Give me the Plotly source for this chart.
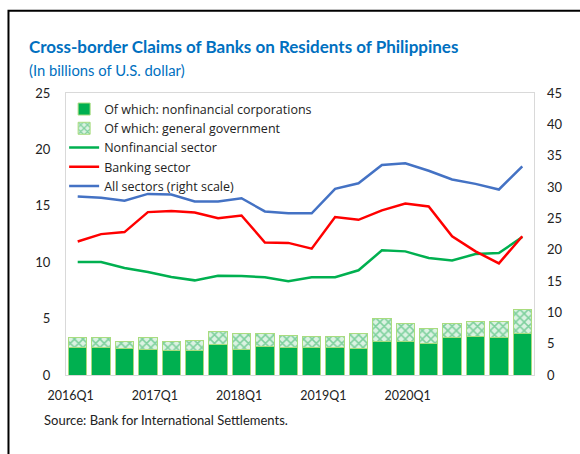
import plotly.graph_objects as go

quarters = ["2016Q1","2016Q2","2016Q3","2016Q4","2017Q1","2017Q2","2017Q3","2017Q4",
            "2018Q1","2018Q2","2018Q3","2018Q4","2019Q1","2019Q2","2019Q3","2019Q4",
            "2020Q1","2020Q2","2020Q3","2020Q4"]
nonfin_corp = [2.45,2.45,2.33,2.24,2.15,2.15,2.68,2.27,2.54,2.43,2.42,2.45,2.36,3.00,2.95,2.83,3.34,3.39,3.36,3.65]
total_bar   = [3.34,3.34,2.95,3.34,2.95,3.07,3.89,3.69,3.69,3.48,3.39,3.45,3.69,5.02,4.58,4.10,4.58,4.78,4.78,5.84]
gen_gov = [round(t - n, 2) for t, n in zip(total_bar, nonfin_corp)]
nonfin_sector = [10.02,10.02,9.49,9.13,8.69,8.39,8.80,8.77,8.66,8.32,8.66,8.66,9.28,11.05,10.96,10.37,10.16,10.72,10.81,12.23]
banking = [11.84,12.49,12.67,14.44,14.53,14.41,13.90,14.14,11.75,11.71,11.20,14.00,13.76,14.60,15.20,14.94,12.30,10.96,9.90,12.30]
all_sectors = [28.5,28.3,27.8,28.9,28.8,27.7,27.7,28.2,26.1,25.8,25.8,29.7,30.6,33.5,33.8,32.6,31.2,30.5,29.6,33.3]
label_quarters = ["2016Q1","2017Q1","2018Q1","2019Q1","2020Q1"]

x = list(range(len(quarters)))
FONT = "Open Sans"
TFONT = "Lato"
# label positions on the category axis (source layout places them slightly left of the bars)
label_pos = [quarters.index(q) * 0.9 - 0.3 for q in label_quarters]

fig = go.Figure()
fig.add_trace(go.Bar(x=x, y=nonfin_corp, name="Of which: nonfinancial corporations",
                     marker=dict(color="#00B050", line=dict(color="#A9DC7E", width=1)),
                     customdata=quarters, hovertemplate="%{customdata}: %{y}<extra></extra>"))
fig.add_trace(go.Bar(x=x, y=gen_gov, name="Of which: general government",
                     marker=dict(color="#DDF3E4", line=dict(color="#A9DC7E", width=1),
                                 pattern=dict(shape="x", fgcolor="#1FAE57", bgcolor="#DCF2E3",
                                              size=6, solidity=0.45)),
                     customdata=quarters, hovertemplate="%{customdata}: %{y}<extra></extra>"))
fig.add_trace(go.Scatter(x=x, y=nonfin_sector, name="Nonfinancial sector", mode="lines",
                         line=dict(color="#00B050", width=2.5)))
fig.add_trace(go.Scatter(x=x, y=banking, name="Banking sector", mode="lines",
                         line=dict(color="#FF0000", width=2.5)))
fig.add_trace(go.Scatter(x=x, y=all_sectors, name="All sectors (right scale)", mode="lines",
                         line=dict(color="#4472C4", width=2.5), yaxis="y2"))

fig.update_layout(
    width=580, height=454,
    margin=dict(l=66, r=46, t=93, b=78.5),
    paper_bgcolor="white", plot_bgcolor="white",
    barmode="stack", bargap=0.21,
    showlegend=True,
    legend=dict(x=-0.004, y=0.995, xanchor="left", yanchor="top", traceorder="normal",
                bgcolor="rgba(0,0,0,0)", font=dict(family=FONT, size=12.5, color="#222"),
                tracegroupgap=0, itemwidth=30),
    font=dict(family=TFONT, size=13, color="#222"),
    xaxis=dict(range=[-0.5, len(quarters) - 0.5], tickmode="array", tickvals=label_pos,
               ticktext=label_quarters, showgrid=False, zeroline=False,
               showline=True, linecolor="#D9D9D9", linewidth=1, mirror=True,
               ticks="", ticklabelstandoff=9, tickfont=dict(family=TFONT, size=12.5, color="#222")),
    yaxis=dict(range=[0, 25], dtick=5, showgrid=False, zeroline=False,
               showline=True, linecolor="#D9D9D9", linewidth=1, mirror=True,
               ticks="", ticklabelstandoff=12, tickfont=dict(family=TFONT, size=13, color="#222")),
    yaxis2=dict(range=[0, 45], dtick=5, overlaying="y", side="right", showgrid=False,
                zeroline=False, showline=False, ticks="", ticklabelstandoff=12,
                tickfont=dict(family=TFONT, size=13, color="#222")),
    annotations=[
        dict(text="<b>Cross-border Claims of Banks on Residents of Philippines</b>",
             xref="paper", yref="paper", x=-0.0833, y=1.164, xanchor="left", yanchor="middle",
             showarrow=False, font=dict(family=TFONT, size=17, color="#0070C0")),
        dict(text="(In billions of U.S. dollar)",
             xref="paper", yref="paper", x=-0.0833, y=1.081, xanchor="left", yanchor="middle",
             showarrow=False, font=dict(family=TFONT, size=14.8, color="#0070C0")),
        dict(text="Source: Bank for International Settlements.",
             xref="paper", yref="paper", x=-0.0513, y=-0.158, xanchor="left", yanchor="middle",
             showarrow=False, font=dict(family=TFONT, size=13, color="#222")),
    ],
    shapes=[dict(type="rect", xref="paper", yref="paper", x0=-0.1229, x1=1.11, y0=-0.3, y1=1.292,
                 line=dict(color="black", width=2), fillcolor="rgba(0,0,0,0)", layer="above")],
)

fig.write_html("out.html", config={"displayModeBar": False},
               post_script="document.body.style.margin='0px';")
